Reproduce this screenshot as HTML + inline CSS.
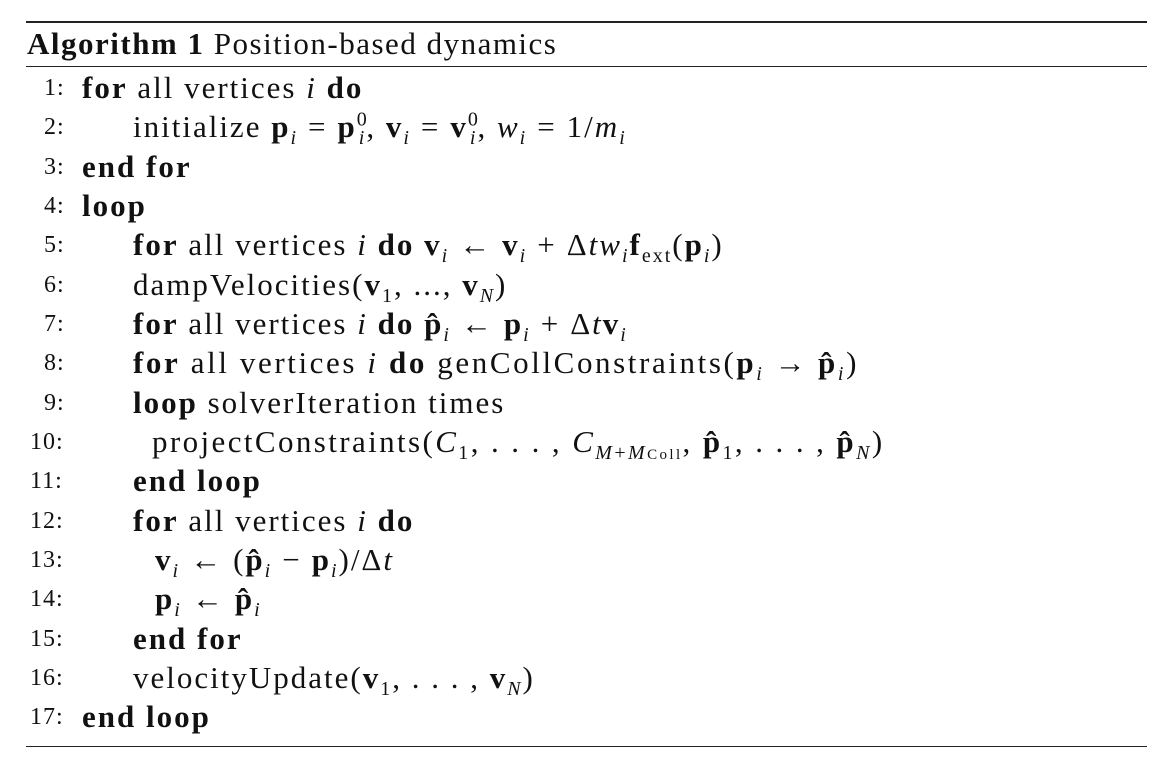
<!DOCTYPE html>
<html><head><meta charset="utf-8"><style>
body{margin:0;width:1174px;height:762px;background:#fff;position:relative;overflow:hidden;font-family:"Liberation Serif",serif;color:#111}
.r{position:absolute;left:26px;width:1121px;background:#222}
.l{position:absolute;font-size:31px;line-height:31px;white-space:nowrap;letter-spacing:2px}
.n{position:absolute;font-size:24px;line-height:31px;white-space:nowrap;letter-spacing:1px}
b{font-weight:bold}
i{font-style:italic}
sub,sup{font-size:20px;line-height:0}
.v{font-weight:bold}
.o{display:inline-block;margin:0 10px}
</style></head><body>
<div class="r" style="top:21px;height:2px"></div>
<div class="r" style="top:66px;height:1px"></div>
<div class="r" style="top:746px;height:1px"></div>
<div class="l" style="left:27px;top:28px;letter-spacing:1.5px"><b>Algorithm 1</b> Position-based dynamics</div>

<div class="n" style="left:44px;top:73px">1:</div><div class="l" style="left:82px;top:72px"><b>for</b> all vertices <i>i</i> <b>do</b></div>
<div class="n" style="left:44px;top:112px">2:</div><div class="l" style="left:133px;top:111px">initialize <span class="v">p</span><sub><i>i</i></sub><span class="o">=</span><span class="v">p</span><sup>0</sup><sub style="margin-left:-10px"><i>i</i></sub>, <span class="v">v</span><sub><i>i</i></sub><span class="o">=</span><span class="v">v</span><sup>0</sup><sub style="margin-left:-10px"><i>i</i></sub>, <i>w</i><sub><i>i</i></sub><span class="o">=</span>1/<i>m</i><sub><i>i</i></sub></div>
<div class="n" style="left:44px;top:152px">3:</div><div class="l" style="left:82px;top:151px"><b>end for</b></div>
<div class="n" style="left:44px;top:191px">4:</div><div class="l" style="left:82px;top:190px"><b>loop</b></div>
<div class="n" style="left:44px;top:230px">5:</div><div class="l" style="left:133px;top:229px"><b>for</b> all vertices <i>i</i> <b>do</b> <span class="v">v</span><sub><i>i</i></sub><span class="o">←</span><span class="v">v</span><sub><i>i</i></sub><span class="o">+</span>Δ<i>tw</i><sub><i>i</i></sub><span class="v">f</span><sub>ext</sub>(<span class="v">p</span><sub><i>i</i></sub>)</div>
<div class="n" style="left:44px;top:270px">6:</div><div class="l" style="left:133px;top:269px">dampVelocities(<span class="v">v</span><sub>1</sub>, ..., <span class="v">v</span><sub><i>N</i></sub>)</div>
<div class="n" style="left:44px;top:309px">7:</div><div class="l" style="left:133px;top:308px"><b>for</b> all vertices <i>i</i> <b>do</b> <span class="v">p̂</span><sub><i>i</i></sub><span class="o">←</span><span class="v">p</span><sub><i>i</i></sub><span class="o">+</span>Δ<i>t</i><span class="v">v</span><sub><i>i</i></sub></div>
<div class="n" style="left:44px;top:348px">8:</div><div class="l" style="left:133px;top:347px;letter-spacing:2.6px"><b>for</b> all vertices <i>i</i> <b>do</b> genCollConstraints(<span class="v">p</span><sub><i>i</i></sub><span class="o">→</span><span class="v">p̂</span><sub><i>i</i></sub>)</div>
<div class="n" style="left:44px;top:388px">9:</div><div class="l" style="left:133px;top:387px"><b>loop</b> solverIteration times</div>
<div class="n" style="left:30px;top:427px">10:</div><div class="l" style="left:152px;top:426px;letter-spacing:2.4px">projectConstraints(<i>C</i><sub>1</sub>, . . . , <i>C</i><sub><i>M</i>+<i>M</i><span style="font-size:15px">Coll</span></sub>, <span class="v">p̂</span><sub>1</sub>, . . . , <span class="v">p̂</span><sub><i>N</i></sub>)</div>
<div class="n" style="left:30px;top:466px">11:</div><div class="l" style="left:133px;top:465px"><b>end loop</b></div>
<div class="n" style="left:30px;top:506px">12:</div><div class="l" style="left:133px;top:505px"><b>for</b> all vertices <i>i</i> <b>do</b></div>
<div class="n" style="left:30px;top:545px">13:</div><div class="l" style="left:155px;top:544px"><span class="v">v</span><sub><i>i</i></sub><span class="o">←</span>(<span class="v">p̂</span><sub><i>i</i></sub><span class="o">−</span><span class="v">p</span><sub><i>i</i></sub>)/Δ<i>t</i></div>
<div class="n" style="left:30px;top:584px">14:</div><div class="l" style="left:155px;top:583px"><span class="v">p</span><sub><i>i</i></sub><span class="o">←</span><span class="v">p̂</span><sub><i>i</i></sub></div>
<div class="n" style="left:30px;top:624px">15:</div><div class="l" style="left:133px;top:623px"><b>end for</b></div>
<div class="n" style="left:30px;top:663px">16:</div><div class="l" style="left:133px;top:662px">velocityUpdate(<span class="v">v</span><sub>1</sub>, . . . , <span class="v">v</span><sub><i>N</i></sub>)</div>
<div class="n" style="left:30px;top:702px">17:</div><div class="l" style="left:82px;top:701px"><b>end loop</b></div>
</body></html>
